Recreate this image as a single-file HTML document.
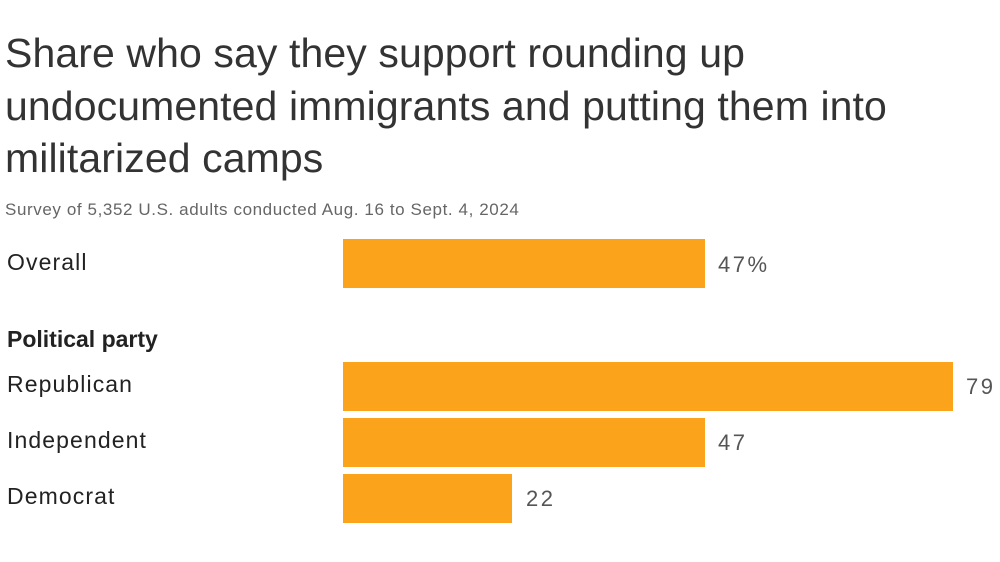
<!DOCTYPE html>
<html><head><meta charset="utf-8"><style>
body{margin:0;width:1000px;height:562px;background:#fff;position:relative;overflow:hidden;font-family:"Liberation Sans",sans-serif;color:#222}
.t{position:absolute;left:5px;top:27px;font-size:41px;line-height:52.5px;color:#333;letter-spacing:0.1px;white-space:nowrap}
.s{position:absolute;left:5px;top:200px;font-size:17px;color:#666;letter-spacing:0.6px;white-space:nowrap}
.l{position:absolute;left:7px;font-size:23px;color:#222;letter-spacing:1.1px}
.b{position:absolute;left:343px;background:#FBA31A}
.v{position:absolute;font-size:22px;color:#555;letter-spacing:2.5px}
</style></head><body>
<div class="t">Share who say they support rounding up<br>undocumented immigrants and putting them into<br>militarized camps</div>
<div class="s">Survey of 5,352 U.S. adults conducted Aug. 16 to Sept. 4, 2024</div>
<div class="l" style="top:249px">Overall</div>
<div class="b" style="top:239px;width:362px;height:49px"></div>
<div class="v" style="left:718px;top:252px">47%</div>
<div class="l" style="top:326px;font-weight:bold;letter-spacing:0">Political party</div>
<div class="l" style="top:371px">Republican</div>
<div class="b" style="top:362px;width:610px;height:49px"></div>
<div class="v" style="left:966px;top:374px">79</div>
<div class="l" style="top:427px">Independent</div>
<div class="b" style="top:418px;width:362px;height:49px"></div>
<div class="v" style="left:718px;top:430px">47</div>
<div class="l" style="top:483px">Democrat</div>
<div class="b" style="top:474px;width:169px;height:49px"></div>
<div class="v" style="left:526px;top:486px">22</div>
</body></html>
